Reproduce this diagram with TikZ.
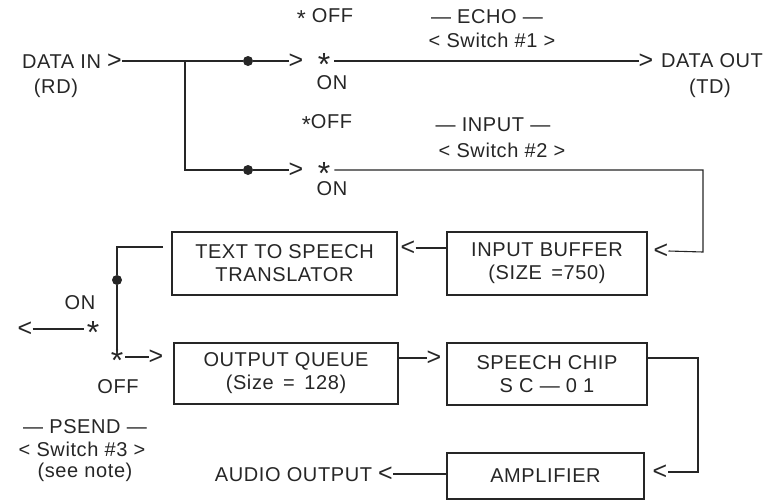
\documentclass[tikz,border=0pt]{standalone}
\usepackage{fontspec}
\setmainfont[LetterSpace=3]{Liberation Sans}
\usetikzlibrary{positioning}

\newcommand{\bigmark}[1]{{\fontsize{25}{25}\selectfont #1}}
\newcommand{\lowstar}{\raisebox{-4pt}{\fontsize{23}{23}\selectfont *}}

\tikzset{
  lbl/.style={inner sep=0pt, font=\fontsize{20}{23}\selectfont, text=black!85},
  arrmark/.style={inner sep=0pt, font=\fontsize{25}{25}\selectfont, text=black!85},
  starmark/.style={inner sep=0pt, font=\fontsize{32}{32}\selectfont, text=black!85,
                   text height=0pt, text depth=0pt, yshift=-14pt},
  blk/.style={draw, line width=1.1pt, align=center, inner sep=0pt,
              font=\fontsize{20}{23}\selectfont, text=black!85},
  wire/.style={line width=1.1pt},
  jdot/.style={circle, fill, inner sep=0pt, minimum size=10pt}
}

\begin{document}
\begin{tikzpicture}[x=1pt, y=-1pt, black!85]
        \useasboundingbox (0,0) rectangle (772,499);

        % data in and the two upper switches
        \node[lbl, anchor=east] (din) at (122,61) {DATA IN \bigmark{>}};
        \node[lbl] (rd) at (56,88) {(RD)};
        \coordinate (split) at (185,61);
        \coordinate (splitlow) at (185,170);
        \node[jdot] (dot1) at (248,61) {};
        \node[jdot] (dot2) at (248,170) {};

        % ECHO switch
        \node[arrmark] (gt1) at (296,61) {>};
        \node[starmark] (star1) at (324,61) {*};
        \node[lbl] (on1) at (332,83) {ON};
        \node[lbl] (off1) at (325,18) {\lowstar\ OFF};
        \node[lbl] (echo) at (487,17) {--- ECHO ---};
        \node[lbl] (sw1) at (492,40) {< Switch \#1 >};
        \node[arrmark] (gt5) at (646,61) {>};
        \node[lbl, anchor=west] (dout) at (661,61) {DATA OUT};
        \node[lbl] (td) at (710,88) {(TD)};

        % INPUT switch
        \node[arrmark] (gt2) at (296,170) {>};
        \node[starmark] (star2) at (324,170) {*};
        \node[lbl] (on2) at (332,189) {ON};
        \node[lbl] (off2) at (327,124) {\lowstar OFF};
        \node[lbl] (input) at (493,125) {--- INPUT ---};
        \node[lbl] (sw2) at (502,150) {< Switch \#2 >};
        \coordinate (turn1) at (703,169);
        \coordinate (turn2) at (703,252);

        % blocks
        \node[blk, minimum width=200pt, minimum height=63pt] (buf) at (547,263.5)
              {INPUT BUFFER\\(SIZE \,=750)};
        \node[blk, minimum width=225pt, minimum height=63pt] (tts) at (284.5,263.5)
              {TEXT TO SPEECH\\TRANSLATOR};
        \node[blk, minimum width=224pt, minimum height=61pt] (oq) at (286,373.5)
              {OUTPUT QUEUE\\(Size \,= \,128)};
        \node[blk, minimum width=200pt, minimum height=62pt] (sc) at (547,374)
              {SPEECH CHIP\\S C --- 0 1};
        \node[blk, minimum width=197pt, minimum height=46pt] (amp) at (545.5,476)
              {AMPLIFIER};

        % arrow marks beside the blocks
        \node[arrmark] (lt1) at (661,251) {<};
        \node[arrmark] (lt2) at (408,248) {<};
        \node[arrmark] (gt3) at (434,358) {>};
        \node[arrmark] (lt4) at (660,472) {<};
        \node[lbl, anchor=east] (aout) at (393,474) {AUDIO OUTPUT \bigmark{<}};
        \coordinate (ampin) at (698,472);
        \coordinate (scout) at (698,358);

        % PSEND switch
        \coordinate (ttsout) at (163,247);
        \coordinate (bend) at (117,247);
        \coordinate (swbot) at (117,349);
        \node[jdot] (dot3) at (117,280) {};
        \node[lbl] (on3) at (80,303) {ON};
        \node[arrmark] (lt3) at (25,329) {<};
        \node[starmark] (star3) at (93,329) {*};
        \node[starmark] (star4) at (117,357) {*};
        \node[arrmark] (gt4) at (156,357) {>};
        \node[lbl] (off3) at (118,387) {OFF};
        \node[lbl] (psend) at (85,427) {--- PSEND ---};
        \node[lbl] (sw3) at (82,449) {< Switch \#3 >};
        \node[lbl] (note) at (85,472) {(see note)};

        % wires
        \draw[wire] (din.east) -- (split) -- (dot1) -- (gt1.west);
        \draw[wire] (split) -- (splitlow) -- (dot2) -- (gt2.west);
        \draw[wire] ([xshift=4pt]star1.east |- gt1) -- (gt5.west);
        \draw[wire] ([xshift=4pt]star2.east |- gt2) -- (turn1 |- gt2) -- (turn2) -- (lt1.east);
        \draw[wire] (lt2.east) -- (lt2.east -| buf.west);
        \draw[wire] (ttsout) -- (bend) -- (dot3) -- (swbot);
        \draw[wire] (lt3.east) -- ([xshift=-3pt]star3.west |- lt3);
        \draw[wire] ([xshift=2pt]star4.east |- gt4) -- (gt4.west);
        \draw[wire] (oq.east |- gt3) -- (gt3.west);
        \draw[wire] (sc.east |- scout) -- (scout) -- (ampin) -- (lt4.east);
        \draw[wire] (aout.east) -- (aout.east -| amp.west);

    \end{tikzpicture}
\end{document}
